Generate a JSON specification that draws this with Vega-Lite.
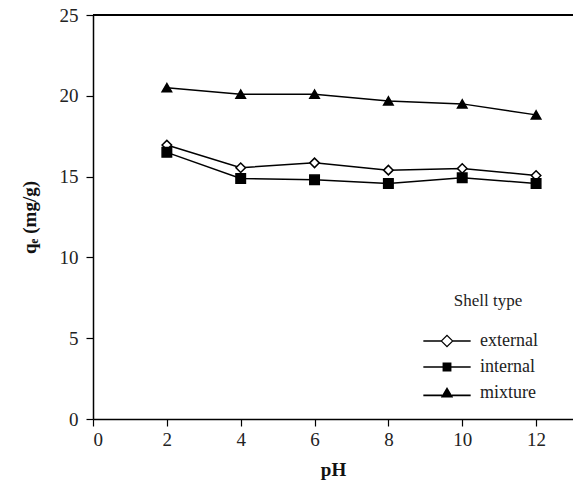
{
  "$schema": "https://vega.github.io/schema/vega-lite/v6.json",
  "width": 480,
  "height": 404,
  "autosize": {"type": "none"},
  "padding": {"left": 93, "top": 15, "right": 0, "bottom": 68},
  "config": {
    "view": {"stroke": null},
    "font": "Liberation Serif",
    "axis": {
      "domainColor": "black", "domainWidth": 1.5, "tickColor": "black", "tickWidth": 1.2, "tickSize": 7,
      "titleFont": "Liberation Serif", "titleFontSize": 19, "titleFontWeight": "bold", "titleColor": "#111",
      "grid": false
    }
  },
  "data": {"values": [
    {"pH": 2, "q": 16.95, "type": "external"},
    {"pH": 4, "q": 15.55, "type": "external"},
    {"pH": 6, "q": 15.85, "type": "external"},
    {"pH": 8, "q": 15.4, "type": "external"},
    {"pH": 10, "q": 15.5, "type": "external"},
    {"pH": 12, "q": 15.07, "type": "external"},
    {"pH": 2, "q": 16.5, "type": "internal"},
    {"pH": 4, "q": 14.88, "type": "internal"},
    {"pH": 6, "q": 14.8, "type": "internal"},
    {"pH": 8, "q": 14.57, "type": "internal"},
    {"pH": 10, "q": 14.93, "type": "internal"},
    {"pH": 12, "q": 14.57, "type": "internal"},
    {"pH": 2, "q": 20.5, "type": "mixture"},
    {"pH": 4, "q": 20.1, "type": "mixture"},
    {"pH": 6, "q": 20.1, "type": "mixture"},
    {"pH": 8, "q": 19.68, "type": "mixture"},
    {"pH": 10, "q": 19.5, "type": "mixture"},
    {"pH": 12, "q": 18.82, "type": "mixture"}
  ]},
  "encoding": {
    "x": {"field": "pH", "type": "quantitative", "scale": {"domain": [0, 13], "nice": false},
      "axis": {"values": [0, 2, 4, 6, 8, 10, 12], "title": "pH", "labelFont": "Liberation Serif", "labelFontSize": 19, "labelColor": "#222", "labelPadding": 4, "titlePadding": 11}},
    "y": {"field": "q", "type": "quantitative", "scale": {"domain": [0, 25], "nice": false},
      "axis": {"values": [0, 5, 10, 15, 20, 25], "title": "qₑ (mg/g)", "labelFont": "Liberation Serif", "labelFontSize": 19, "labelColor": "#222", "labelPadding": 8, "titlePadding": 20}}
  },
  "resolve": {"scale": {"shape": "independent", "fill": "independent"}, "legend": {"shape": "independent"}},
  "layer": [
    {
      "mark": {"type": "rule", "color": "black", "strokeWidth": 1.5},
      "encoding": {"y": {"datum": 25}, "x": null}
    },
    {
      "mark": {"type": "line", "color": "black", "strokeWidth": 1.5},
      "encoding": {"detail": {"field": "type"}}
    },
    {
      "mark": {"type": "point", "filled": false, "stroke": "black", "strokeWidth": 1.5, "opacity": 1, "size": 90},
      "encoding": {
        "shape": {"field": "type", "type": "nominal", "legend": null,
          "scale": {"domain": ["external", "internal", "mixture"], "range": ["diamond", "square", "triangle-up"]}},
        "fill": {"field": "type", "type": "nominal", "legend": null,
          "scale": {"domain": ["external", "internal", "mixture"], "range": ["white", "black", "black"]}}
      }
    },
    {
      "mark": {"type": "point", "filled": true, "color": "black", "strokeWidth": 0, "opacity": 0, "size": 140},
      "encoding": {
        "shape": {"field": "type", "type": "nominal",
          "scale": {"domain": ["external", "internal", "mixture"], "range": [
            "M-4,-0.13L-1,-0.13L-1,0.13L-4,0.13ZM1,-0.13L4,-0.13L4,0.13L1,0.13ZM0,-1.1L1.1,0L0,1.1L-1.1,0ZM0,-0.82L-0.82,0L0,0.82L0.82,0Z",
            "M-4,-0.13L-0.7,-0.13L-0.7,0.13L-4,0.13ZM0.7,-0.13L4,-0.13L4,0.13L0.7,0.13ZM-0.75,-0.75L0.75,-0.75L0.75,0.75L-0.75,0.75Z",
            "M-4,0.27L-0.8,0.27L-0.8,0.53L-4,0.53ZM0.8,0.27L4,0.27L4,0.53L0.8,0.53ZM0,-1L1.05,0.75L-1.05,0.75Z"
          ]},
          "legend": {
            "title": "Shell type", "orient": "none", "legendX": 345, "legendY": 278, "padding": 0,
            "titleFont": "Liberation Serif", "titleFontSize": 17, "titleFontWeight": "normal", "titleColor": "#222",
            "titlePadding": 22, "titleAnchor": "middle",
            "labelFont": "Liberation Serif", "labelFontSize": 18, "labelColor": "#222", "labelOffset": 24,
            "rowPadding": 8, "symbolSize": 140, "symbolOpacity": 1, "symbolFillColor": "black", "symbolStrokeWidth": 0
          }
        }
      }
    }
  ]
}
